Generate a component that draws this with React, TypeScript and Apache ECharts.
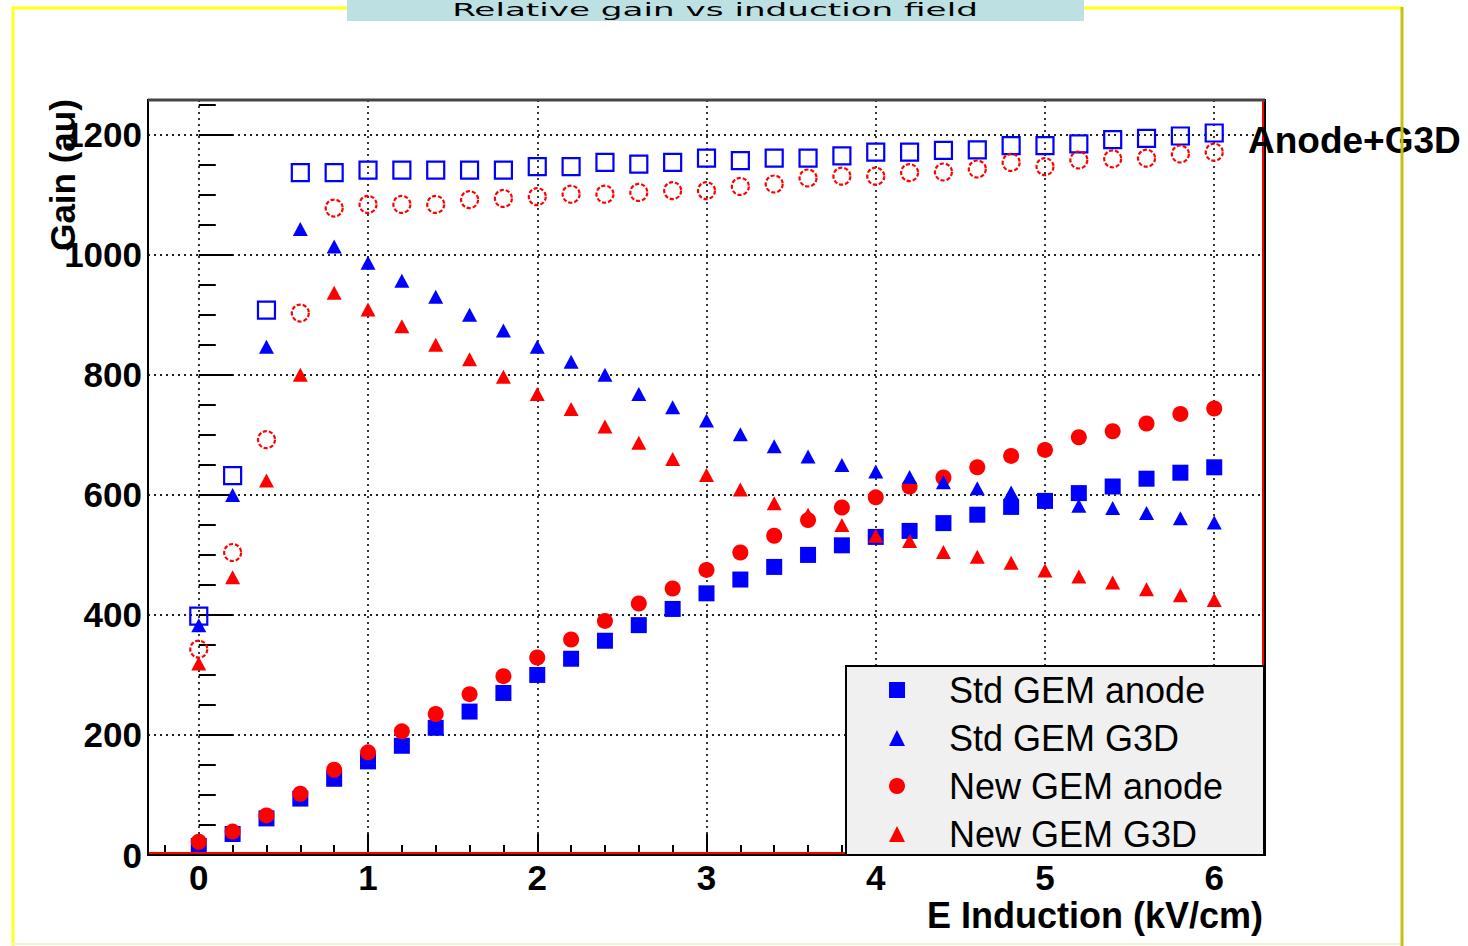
import React, { useEffect, useRef } from "react";
import * as echarts from "echarts";

// ---- data ----
const xVals = [0, 0.2, 0.4, 0.6, 0.8, 1, 1.2, 1.4, 1.6, 1.8, 2, 2.2, 2.4, 2.6, 2.8, 3, 3.2, 3.4, 3.6, 3.8, 4, 4.2, 4.4, 4.6, 4.8, 5, 5.2, 5.4, 5.6, 5.8, 6];
const stdAnode = [15, 35, 61, 94, 127, 156, 182, 212, 239, 270, 300, 327, 357, 383, 410, 436, 459, 480, 500, 516, 530, 540, 553, 567, 580, 590, 603, 614, 627, 637, 646];
const newAnode = [22, 39, 66, 102, 142, 171, 206, 235, 268, 298, 329, 359, 390, 419, 444, 475, 504, 532, 558, 579, 596, 614, 629, 646, 665, 675, 696, 706, 719, 735, 744];
const stdG3D = [383, 600, 847, 1043, 1014, 987, 957, 930, 900, 874, 847, 822, 800, 768, 746, 724, 701, 681, 664, 650, 639, 630, 621, 611, 604, 593, 582, 578, 570, 561, 554];
const newG3D = [319, 463, 624, 800, 937, 909, 881, 850, 826, 797, 768, 743, 714, 687, 660, 633, 609, 586, 567, 550, 532, 523, 505, 497, 487, 474, 464, 454, 443, 433, 425];
const stdSum = [398, 632, 908, 1137, 1137, 1141, 1141, 1141, 1141, 1141, 1147, 1147, 1154, 1151, 1154, 1161, 1157, 1161, 1161, 1165, 1171, 1171, 1174, 1175, 1182, 1182, 1185, 1192, 1194, 1198, 1203];
const newSum = [343, 504, 692, 903, 1078, 1084, 1084, 1084, 1092, 1094, 1097, 1101, 1101, 1104, 1107, 1107, 1114, 1118, 1128, 1131, 1131, 1137, 1138, 1143, 1154, 1147, 1158, 1160, 1161, 1168, 1171];

const xTicks = [0, 1, 2, 3, 4, 5, 6];
const xMinorTicks = [-0.2, 0.2, 0.4, 0.6, 0.8, 1.2, 1.4, 1.6, 1.8, 2.2, 2.4, 2.6, 2.8, 3.2, 3.4, 3.6, 3.8, 4.2, 4.4, 4.6, 4.8, 5.2, 5.4, 5.6, 5.8, 6.2];
const yTicks = [0, 200, 400, 600, 800, 1000, 1200];
const yMinorTicks = [50, 100, 150, 250, 300, 350, 450, 500, 550, 650, 700, 750, 850, 900, 950, 1050, 1100, 1150, 1250];

const legendNames = ["Std GEM anode", "Std GEM G3D", "New GEM anode", "New GEM G3D"];
const sumNames = ["Std GEM anode+G3D", "New GEM anode+G3D"];

const titleText = "Relative gain vs induction field";
const yTitle = "Gain (au)";
const xTitle = "E Induction (kV/cm)";
const sumLabel = "Anode+G3D";

const FONT = "'Liberation Sans', Arial, Helvetica, sans-serif";

function pairs(ys: number[]) {
  return xVals.map((x, i) => [x, ys[i]]);
}

export default function App() {
  const ref = useRef<HTMLDivElement>(null);

  useEffect(() => {
    if (!ref.current) return;
    const chart = echarts.init(ref.current, undefined, { renderer: "svg" });

    const grid = { left: 148, top: 100, width: 1117, height: 755 };
    const gridLine = { color: "#222", width: 1.8, type: [2, 4] as any };
    const labelStyle = { fontFamily: FONT, fontSize: 35, fontWeight: "bold" as const, color: "#000" };

    const option: any = {
      animation: false,
      backgroundColor: "#fff",
      grid,
      xAxis: [
        {
          type: "value",
          min: -0.3,
          max: 6.3,
          position: "bottom",
          axisLine: { show: false },
          axisTick: { show: true, inside: true, length: 21, customValues: xTicks, lineStyle: { color: "#000", width: 2 } },
          axisLabel: { show: true, customValues: xTicks, margin: 5, formatter: (v: number) => String(v), ...labelStyle },
          splitLine: { show: true, lineStyle: gridLine },
        },
        {
          type: "value",
          min: -0.3,
          max: 6.3,
          position: "bottom",
          axisLine: { show: false },
          axisTick: { show: true, inside: true, length: 10, customValues: xMinorTicks, lineStyle: { color: "#000", width: 2 } },
          axisLabel: { show: false },
          splitLine: { show: false },
        },
      ],
      yAxis: [
        {
          type: "value",
          min: 0,
          max: 1258,
          position: "left",
          axisLine: { show: false },
          axisTick: { show: true, inside: true, length: 34, customValues: yTicks, lineStyle: { color: "#000", width: 2 } },
          axisLabel: { show: true, customValues: yTicks, margin: 6, formatter: (v: number) => String(v), ...labelStyle },
          splitLine: { show: true, lineStyle: gridLine },
        },
        {
          type: "value",
          min: 0,
          max: 1258,
          position: "left",
          axisLine: { show: false },
          axisTick: { show: true, inside: true, length: 17, customValues: yMinorTicks, lineStyle: { color: "#000", width: 2 } },
          axisLabel: { show: false },
          splitLine: { show: false },
        },
      ],
      legend: {
        data: legendNames,
        orient: "vertical",
        left: 846,
        top: 665,
        padding: [7, 10, 5, 43],
        itemWidth: 16,
        itemHeight: 16,
        itemGap: 12,
        z: 20,
        backgroundColor: "transparent",
        textStyle: { fontFamily: FONT, fontSize: 36, color: "#000", padding: [0, 0, 0, 39] },
        selectedMode: false,
      },
      series: [
        {
          name: legendNames[0],
          type: "scatter",
          data: pairs(stdAnode),
          symbol: "rect",
          symbolSize: 16,
          itemStyle: { color: "#0000ff", opacity: 1 },
        },
        {
          name: legendNames[2],
          type: "scatter",
          data: pairs(newAnode),
          symbol: "circle",
          symbolSize: 16,
          itemStyle: { color: "#ff0000", opacity: 1 },
        },
        {
          name: legendNames[1],
          type: "scatter",
          data: pairs(stdG3D),
          symbol: "triangle",
          symbolSize: [15, 14],
          itemStyle: { color: "#0000ff", opacity: 1 },
        },
        {
          name: legendNames[3],
          type: "scatter",
          data: pairs(newG3D),
          symbol: "triangle",
          symbolSize: [15, 14],
          itemStyle: { color: "#ff0000", opacity: 1 },
        },
        {
          name: sumNames[0],
          type: "scatter",
          data: pairs(stdSum),
          symbol: "rect",
          symbolSize: 17,
          itemStyle: { color: "rgba(0,0,0,0)", borderColor: "#0000ff", borderWidth: 2.2, opacity: 1 },
        },
        {
          name: sumNames[1],
          type: "scatter",
          data: pairs(newSum),
          symbol: "circle",
          symbolSize: 17,
          itemStyle: { color: "rgba(0,0,0,0)", borderColor: "#ff0000", borderWidth: 2.2, borderType: [4, 2], opacity: 1 },
        },
      ],
      graphic: [
        // legend box
        {
          type: "rect",
          z: 15,
          shape: { x: 846, y: 666, width: 418, height: 189 },
          style: { fill: "#f0f0f0", stroke: "#000", lineWidth: 2 },
        },
        // frame
        {
          type: "rect",
          z: 12,
          shape: { x: 148, y: 100, width: 1117, height: 755 },
          style: { fill: "none", stroke: "#000", lineWidth: 2 },
        },
        {
          type: "line",
          z: 12,
          shape: { x1: 148, y1: 100, x2: 1265, y2: 100 },
          style: { stroke: "#444", lineWidth: 3 },
        },
        {
          type: "line",
          z: 13,
          shape: { x1: 149, y1: 853, x2: 1264, y2: 853 },
          style: { stroke: "#ff0000", lineWidth: 2 },
        },
        {
          type: "line",
          z: 13,
          shape: { x1: 1263, y1: 101, x2: 1263, y2: 854 },
          style: { stroke: "#ff0000", lineWidth: 2 },
        },
        // axis titles
        {
          type: "text",
          z: 14,
          x: 62,
          y: 175,
          rotation: Math.PI / 2,
          style: {
            text: yTitle,
            font: `bold 35px ${FONT}`,
            fill: "#000",
            align: "center",
            verticalAlign: "middle",
            textAlign: "center",
            textVerticalAlign: "middle",
          },
        },
        {
          type: "text",
          z: 14,
          x: 1263,
          y: 915,
          style: {
            text: xTitle,
            font: `bold 36px ${FONT}`,
            fill: "#000",
            align: "right",
            verticalAlign: "middle",
            textAlign: "right",
            textVerticalAlign: "middle",
          },
        },
        {
          type: "text",
          z: 14,
          x: 1248,
          y: 140,
          style: {
            text: sumLabel,
            font: `bold 37px ${FONT}`,
            fill: "#000",
            align: "left",
            verticalAlign: "middle",
            textAlign: "left",
            textVerticalAlign: "middle",
          },
        },
        // yellow slide frame
        {
          type: "line",
          z: 30,
          shape: { x1: 12, y1: 8, x2: 1402, y2: 8 },
          style: { stroke: "#ffff33", lineWidth: 3.5 },
        },
        {
          type: "line",
          z: 30,
          shape: { x1: 13, y1: 7, x2: 13, y2: 946 },
          style: { stroke: "#ffff22", lineWidth: 3 },
        },
        {
          type: "line",
          z: 31,
          shape: { x1: 1402, y1: 7, x2: 1402, y2: 946 },
          style: { stroke: "#c8c010", lineWidth: 3 },
        },
        {
          type: "line",
          z: 30,
          shape: { x1: 12, y1: 944, x2: 1402, y2: 944 },
          style: { stroke: "#eef4d4", lineWidth: 2 },
        },
        // title banner
        {
          type: "rect",
          z: 32,
          shape: { x: 347, y: 0, width: 737, height: 21 },
          style: { fill: "#bde0e3" },
        },
        {
          type: "text",
          z: 33,
          x: 715,
          y: 10,
          scaleX: 1.9,
          style: {
            text: titleText,
            font: `18px 'DejaVu Sans', sans-serif`,
            fill: "#000",
            align: "center",
            verticalAlign: "middle",
            textAlign: "center",
            textVerticalAlign: "middle",
          },
        },
      ],
    };

    chart.setOption(option);
    return () => chart.dispose();
  }, []);

  return (
    <div
      ref={ref}
      style={{ position: "fixed", left: 0, top: 0, width: 1468, height: 946, background: "#fff" }}
    />
  );
}
